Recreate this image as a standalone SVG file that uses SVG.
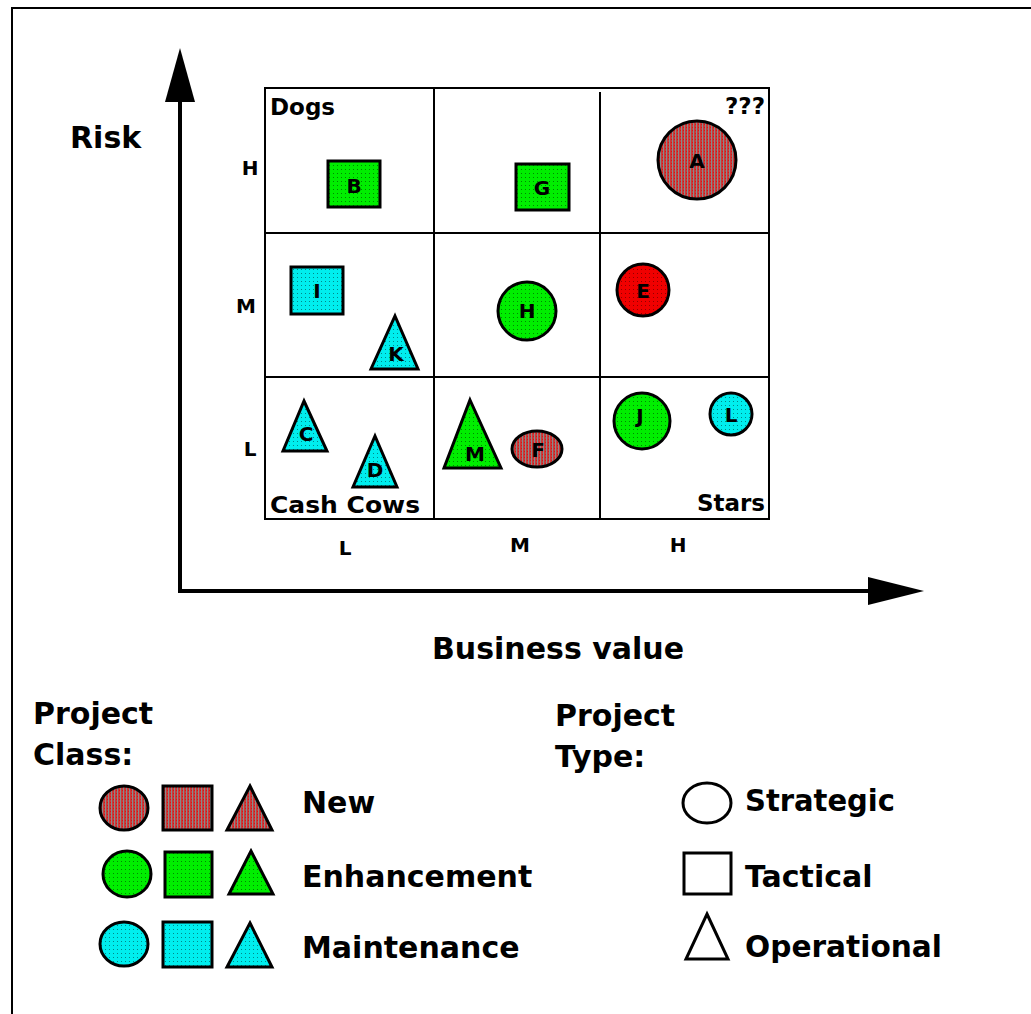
<svg xmlns="http://www.w3.org/2000/svg" width="1031" height="1014" viewBox="0 0 1031 1014">
<defs>
<pattern id="pRed" width="3" height="3" patternUnits="userSpaceOnUse"><rect width="3" height="3" fill="#c83a3a"/><rect width="1" height="3" fill="#8a8a8a"/><rect x="2" y="1" width="1" height="1" fill="#e01010"/></pattern>
<pattern id="pGreen" width="4" height="4" patternUnits="userSpaceOnUse"><rect width="4" height="4" fill="#00ee00"/><rect x="1" y="1" width="1" height="1" fill="#008800"/></pattern>
<pattern id="pCyan" width="4" height="4" patternUnits="userSpaceOnUse"><rect width="4" height="4" fill="#00eeee"/><rect x="1" y="1" width="1" height="1" fill="#008888"/></pattern>
<pattern id="pBright" width="4" height="4" patternUnits="userSpaceOnUse"><rect width="4" height="4" fill="#f00000"/><rect x="1" y="1" width="1" height="1" fill="#900000"/></pattern>
</defs>
<style>
text{font-family:"DejaVu Sans","Liberation Sans",sans-serif;fill:#000}
.big{font-size:30px;font-weight:bold}
.lbl{font-size:20px;font-weight:bold}
.cell{font-size:23px;font-weight:bold}
.ltr{font-size:20px;font-weight:bold;text-anchor:middle}
.sh{stroke:#000;stroke-width:3}
.red{fill:url(#pRed)}
.green{fill:url(#pGreen)}
.cyan{fill:url(#pCyan)}
.bright{fill:url(#pBright)}
.open{fill:#fff;stroke:#000;stroke-width:3}
.grid{fill:none;stroke:#000;stroke-width:2}
</style>
<rect x="0" y="0" width="1031" height="1014" fill="#fff"/>
<rect x="12" y="8" width="1030" height="1020" fill="none" stroke="#000" stroke-width="2"/>

<g id="connectors">
<line x1="180" y1="98" x2="180" y2="593" stroke="#000" stroke-width="4"/>
<polygon points="180,48 195,102 165,102" fill="#000"/>
<line x1="178" y1="591" x2="870" y2="591" stroke="#000" stroke-width="4"/>
<polygon points="924,591 868,577 868,605" fill="#000"/>
</g>

<g id="axis-labels">
<text class="big" x="70" y="148" font-size="31">Risk</text>
<text class="big" x="432" y="659">Business value</text>
<text class="lbl" x="250" y="175" text-anchor="middle">H</text>
<text class="lbl" x="246" y="313" text-anchor="middle">M</text>
<text class="lbl" x="250" y="456" text-anchor="middle">L</text>
<text class="lbl" x="345" y="555" text-anchor="middle">L</text>
<text class="lbl" x="520" y="552" text-anchor="middle">M</text>
<text class="lbl" x="678" y="552" text-anchor="middle">H</text>
</g>

<g id="grid">
<rect class="grid" x="265" y="88" width="504" height="431"/>
<line class="grid" x1="434" y1="88" x2="434" y2="519"/>
<line class="grid" x1="600" y1="92" x2="600" y2="519"/>
<line class="grid" x1="265" y1="233" x2="769" y2="233"/>
<line class="grid" x1="265" y1="377" x2="769" y2="377"/>
<text class="cell" x="270" y="115">Dogs</text>
<text class="cell" x="765" y="114" text-anchor="end">???</text>
<text class="cell" x="270" y="513" textLength="150" lengthAdjust="spacingAndGlyphs">Cash Cows</text>
<text class="cell" x="765" y="511" text-anchor="end">Stars</text>
</g>

<g id="node-A"><circle class="sh red" cx="697" cy="160" r="39"/><text class="ltr" x="697" y="168">A</text></g>
<g id="node-B"><rect class="sh green" x="328" y="161" width="52" height="46"/><text class="ltr" x="354" y="193">B</text></g>
<g id="node-G"><rect class="sh green" x="516" y="164" width="53" height="46"/><text class="ltr" x="542" y="195">G</text></g>
<g id="node-I"><rect class="sh cyan" x="291" y="267" width="52" height="47"/><text class="ltr" x="317" y="298">I</text></g>
<g id="node-K"><polygon class="sh cyan" points="395,316 418,369 371,369"/><text class="ltr" x="396" y="361">K</text></g>
<g id="node-H"><circle class="sh green" cx="527" cy="311" r="29"/><text class="ltr" x="527" y="318">H</text></g>
<g id="node-E"><circle class="sh bright" cx="643" cy="290" r="26"/><text class="ltr" x="643" y="298">E</text></g>
<g id="node-C"><polygon class="sh cyan" points="304,401 327,451 283,451"/><text class="ltr" x="306" y="441">C</text></g>
<g id="node-D"><polygon class="sh cyan" points="375,436 397,487 353,487"/><text class="ltr" x="375" y="477">D</text></g>
<g id="node-M"><polygon class="sh green" points="470,400 501,468 444,468"/><text class="ltr" x="475" y="461">M</text></g>
<g id="node-F"><ellipse class="sh red" cx="537" cy="449" rx="25" ry="18"/><text class="ltr" x="538" y="457">F</text></g>
<g id="node-J"><circle class="sh green" cx="642" cy="421" r="28"/><text class="ltr" x="640" y="423">J</text></g>
<g id="node-L"><circle class="sh cyan" cx="731" cy="414" r="21"/><text class="ltr" x="731" y="422">L</text></g>

<g id="legend-class">
<text class="big" x="33" y="724">Project</text>
<text class="big" x="33" y="765">Class:</text>
<ellipse class="sh red" cx="124" cy="808" rx="24" ry="22"/>
<rect class="sh red" x="163" y="786" width="49" height="44"/>
<polygon class="sh red" points="250,786 272,830 227,830"/>
<text class="big" x="302" y="813">New</text>
<ellipse class="sh green" cx="127" cy="874" rx="24" ry="23"/>
<rect class="sh green" x="165" y="852" width="47" height="45"/>
<polygon class="sh green" points="251,851 273,894 229,894"/>
<text class="big" x="302" y="887">Enhancement</text>
<ellipse class="sh cyan" cx="124" cy="944" rx="24" ry="22"/>
<rect class="sh cyan" x="163" y="922" width="49" height="45"/>
<polygon class="sh cyan" points="250,923 272,967 227,967"/>
<text class="big" x="302" y="958">Maintenance</text>
</g>

<g id="legend-type">
<text class="big" x="555" y="726">Project</text>
<text class="big" x="555" y="767">Type:</text>
<ellipse class="open" cx="707" cy="803" rx="24" ry="20"/>
<text class="big" x="745" y="811" textLength="150" lengthAdjust="spacingAndGlyphs">Strategic</text>
<rect class="open" x="684" y="853" width="47" height="41"/>
<text class="big" x="745" y="887">Tactical</text>
<polygon class="open" points="707,914 728,959 686,959"/>
<text class="big" x="745" y="957" textLength="197" lengthAdjust="spacingAndGlyphs">Operational</text>
</g>
</svg>
